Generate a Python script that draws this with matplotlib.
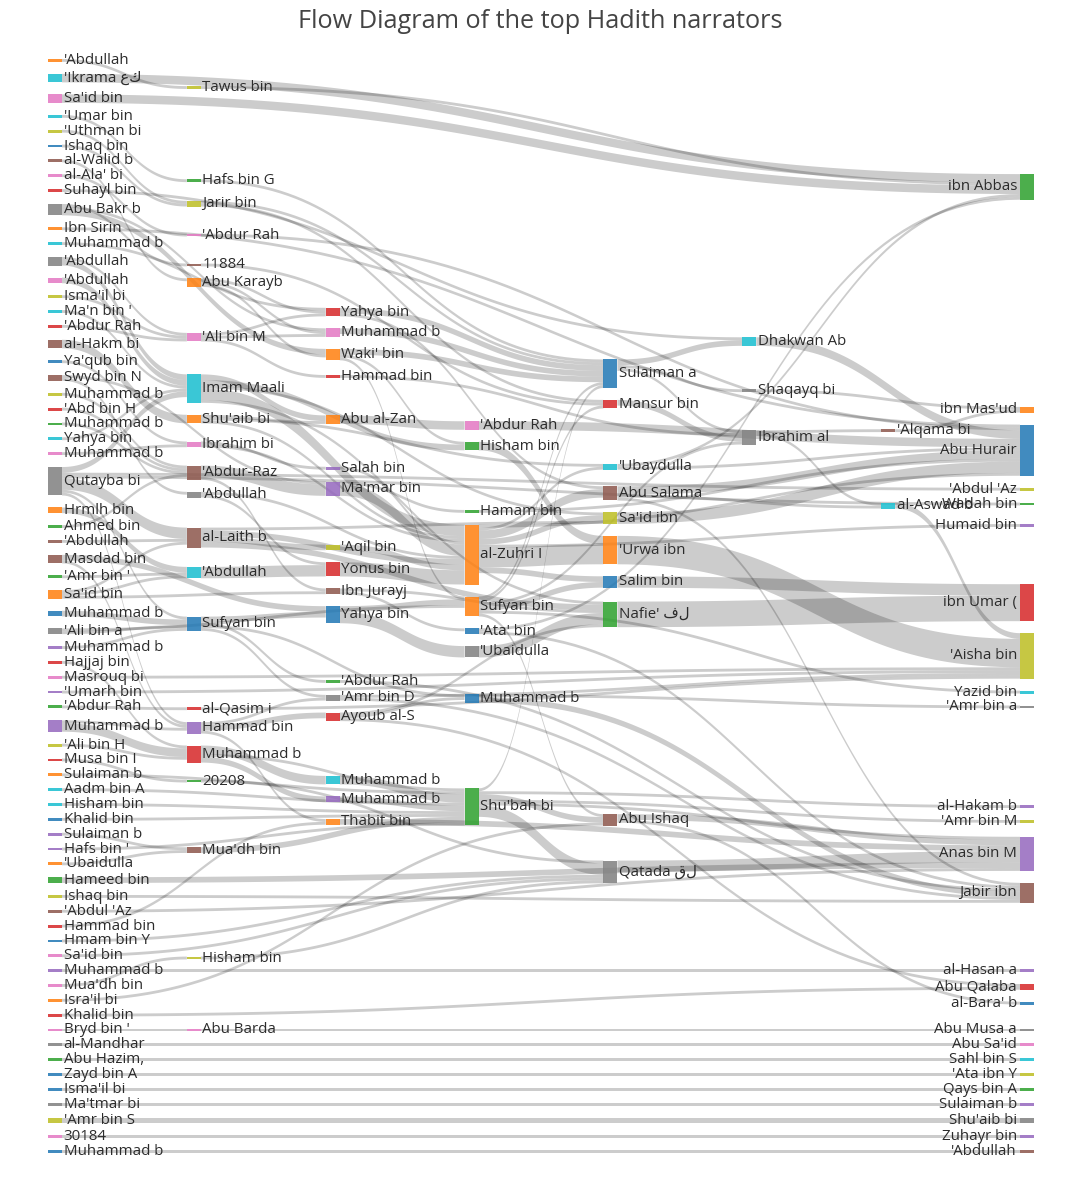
import matplotlib
matplotlib.use("Agg")
import matplotlib.pyplot as plt
import numpy as np
from matplotlib.patches import Rectangle, Polygon

TITLE = "Flow Diagram of the top Hadith narrators"

# ---------------- node labels (grouped by column, top to bottom) ----------------
col0_labels = ["'Abdullah", "'Ikrama عك", "Sa'id bin", "'Umar bin", "'Uthman bi", "Ishaq bin",
               "al-Walid b", "al-Ala' bi", "Suhayl bin", "Abu Bakr b", "Ibn Sirin", "Muhammad b",
               "'Abdullah", "'Abdullah", "Isma'il bi", "Ma'n bin '", "'Abdur Rah", "al-Hakm bi",
               "Ya'qub bin", "Swyd bin N", "Muhammad b", "'Abd bin H", "Muhammad b", "Yahya bin",
               "Muhammad b", "Qutayba bi", "Hrmlh bin", "Ahmed bin", "'Abdullah", "Masdad bin",
               "'Amr bin '", "Sa'id bin", "Muhammad b", "'Ali bin a", "Muhammad b", "Hajjaj bin",
               "Masrouq bi", "'Umarh bin", "'Abdur Rah", "Muhammad b", "'Ali bin H", "Musa bin I",
               "Sulaiman b", "Aadm bin A", "Hisham bin", "Khalid bin", "Sulaiman b", "Hafs bin '",
               "'Ubaidulla", "Hameed bin", "Ishaq bin", "'Abdul 'Az", "Hammad bin", "Hmam bin Y",
               "Sa'id bin", "Muhammad b", "Mua'dh bin", "Isra'il bi", "Khalid bin", "Bryd bin '",
               "al-Mandhar", "Abu Hazim,", "Zayd bin A", "Isma'il bi", "Ma'tmar bi", "'Amr bin S",
               "30184", "Muhammad b"]
col1_labels = ["Tawus bin", "Hafs bin G", "Jarir bin", "'Abdur Rah", "11884", "Abu Karayb",
               "'Ali bin M", "Imam Maali", "Shu'aib bi", "Ibrahim bi", "'Abdur-Raz", "'Abdullah",
               "al-Laith b", "'Abdullah", "Sufyan bin", "al-Qasim i", "Hammad bin", "Muhammad b",
               "20208", "Mua'dh bin", "Hisham bin", "Abu Barda"]
col2_labels = ["Yahya bin", "Muhammad b", "Waki' bin", "Hammad bin", "Abu al-Zan", "Salah bin",
               "Ma'mar bin", "'Aqil bin", "Yonus bin", "Ibn Jurayj", "Yahya bin", "'Abdur Rah",
               "'Amr bin D", "Ayoub al-S", "Muhammad b", "Muhammad b", "Thabit bin"]
col3_labels = ["'Abdur Rah", "Hisham bin", "Hamam bin", "al-Zuhri I", "Sufyan bin", "'Ata' bin",
               "'Ubaidulla", "Muhammad b", "Shu'bah bi"]
col4_labels = ["Sulaiman a", "Mansur bin", "'Ubaydulla", "Abu Salama", "Sa'id ibn", "'Urwa ibn",
               "Salim bin", "Nafie' فل", "Abu Ishaq", "Qatada قل"]
col5_labels = ["Dhakwan Ab", "Shaqayq bi", "Ibrahim al"]
col6_labels = ["'Alqama bi", "al-Aswad b"]
col7_labels = ["ibn Abbas", "ibn Mas'ud", "Abu Hurair", "'Abdul 'Az", "Wadah bin", "Humaid bin",
               "ibn Umar (", "'Aisha bin", "Yazid bin", "'Amr bin a", "al-Hakam b", "'Amr bin M",
               "Anas bin M", "Jabir ibn", "al-Hasan a", "Abu Qalaba", "al-Bara' b", "Abu Musa a",
               "Abu Sa'id", "Sahl bin S", "'Ata ibn Y", "Qays bin A", "Sulaiman b", "Shu'aib bi",
               "Zuhayr bin", "'Abdullah"]

# node colour codes (one letter per node, same order as the labels)
col0_colors = "ocpcybnprk" "ockpycrnbn" "yrgcpkognn" "gobkvrpvgv" "yroccbvvog" "ynrbpvporp" "kgbbkypb"
col1_colors = "ygypnopcopnkncbrvrgnyp"
col2_colors = "rporovvyrnbgkrcvo"
col3_colors = "pggoobkbg"
col4_colors = "brcnyobgnk"
col5_colors = "ckk"
col6_colors = "nc"
col7_colors = "gobygvryckvyvnvrbkpcygvkvn"

# ---------------- links (source key, target key, value) ----------------
links_from_col0 = [
    ("A0", "B0", 1), ("A1", "H0", 3), ("A2", "H0", 3), ("A3", "B1", 1), ("A4", "B2", 1), ("A5", "B2", 1),
    ("A6", "B5", 1), ("A7", "B3", 1), ("A8", "F0", 1), ("A9", "C2", 2), ("A9", "B4", 1), ("A9", "C1", 1),
    ("A10", "H2", 1), ("A11", "C0", 1), ("A12", "B7", 2), ("A12", "B6", 1), ("A13", "B7", 2), ("A14", "B6", 1),
    ("A15", "B7", 1), ("A16", "B6", 1), ("A17", "B8", 3), ("A18", "B9", 1), ("A19", "B11", 1), ("A19", "C6", 1),
    ("A20", "B10", 1), ("A21", "B10", 1), ("A22", "B10", 1), ("A23", "B7", 1), ("A24", "B9", 1),
    ("A25", "B12", 4), ("A25", "B7", 2), ("A25", "H3", 1), ("A25", "H4", 1), ("A25", "B14", 1), ("A25", "B16", 1),
    ("A26", "B13", 2), ("A27", "B10", 1), ("A28", "B12", 1), ("A29", "C10", 2), ("A29", "B16", 1),
    ("A30", "B13", 1), ("A31", "B13", 1), ("A31", "C9", 1), ("A31", "B12", 1), ("A32", "B14", 2),
    ("A33", "D4", 1), ("A33", "B14", 1), ("A34", "B14", 1), ("A35", "B17", 1), ("A36", "H7", 1), ("A37", "H7", 1),
    ("A38", "B15", 1), ("A39", "B17", 3), ("A39", "B16", 1), ("A40", "B17", 1), ("A41", "B18", 1),
    ("A42", "D8", 1), ("A43", "D8", 1), ("A44", "D8", 1), ("A45", "D8", 1), ("A46", "B19", 1), ("A47", "D8", 1),
    ("A48", "B19", 1), ("A49", "H12", 2), ("A50", "H13", 1), ("A51", "H12", 1), ("A52", "C16", 1),
    ("A53", "E9", 1), ("A54", "E9", 1), ("A55", "H14", 1), ("A56", "B20", 1), ("A57", "E8", 1), ("A58", "H15", 1),
    ("A59", "B21", 1), ("A60", "H18", 1), ("A61", "H19", 1), ("A62", "H20", 1), ("A63", "H21", 1),
    ("A64", "H22", 1), ("A65", "H23", 2), ("A66", "H24", 1), ("A67", "H25", 1)]
links_from_col1 = [
    ("B0", "H0", 1), ("B1", "E0", 1), ("B2", "E1", 1), ("B2", "E0", 1), ("B3", "H2", 1),
    ("B4", "E1", 1), ("B5", "C0", 1), ("B5", "C1", 1), ("B5", "C2", 1), ("B6", "C0", 1), ("B6", "C1", 1),
    ("B6", "C3", 1), ("B7", "E7", 1), ("B7", "C4", 2), ("B7", "D3", 4), ("B7", "D1", 2), ("B7", "E4", 1),
    ("B8", "D3", 1), ("B8", "C4", 1), ("B8", "E2", 1), ("B9", "D3", 1), ("B9", "C5", 1),
    ("B10", "C6", 4), ("B10", "C9", 1), ("B11", "C8", 1), ("B11", "D3", 1),
    ("B12", "C7", 2), ("B12", "E7", 2), ("B12", "E4", 1), ("B12", "D3", 2), ("B13", "C8", 4),
    ("B14", "C10", 2), ("B14", "C12", 1), ("B14", "D7", 1), ("B14", "C11", 1), ("B15", "H7", 1),
    ("B16", "C13", 2), ("B16", "C16", 1), ("B16", "C12", 1), ("B17", "C14", 3), ("B17", "C15", 2),
    ("B17", "D8", 1), ("B18", "E9", 1), ("B19", "D8", 2), ("B20", "E9", 1), ("B21", "H17", 1)]
links_from_col2 = [
    ("C0", "E0", 2), ("C0", "E3", 1), ("C1", "E0", 2), ("C2", "E0", 2), ("C2", "D4", 1),
    ("C2", "D1", 1), ("C3", "F2", 1), ("C4", "D0", 3), ("C5", "D3", 1), ("C6", "D3", 4), ("C6", "D2", 1),
    ("C7", "D3", 2), ("C8", "D3", 5), ("C9", "D5", 1), ("C9", "E7", 1), ("C10", "D6", 4), ("C10", "D4", 2),
    ("C11", "H13", 1), ("C12", "H13", 1), ("C12", "H7", 1), ("C13", "E7", 1), ("C13", "H15", 1), ("C13", "D7", 1),
    ("C14", "D8", 3), ("C15", "D8", 2), ("C16", "H12", 2)]
links_from_col3 = [
    ("D0", "H2", 3), ("D1", "E5", 3), ("D2", "H2", 1), ("D3", "E5", 7), ("D3", "E3", 3), ("D3", "E4", 2),
    ("D3", "E6", 2), ("D3", "E2", 1), ("D3", "H5", 1), ("D3", "H2", 1),
    ("D4", "E0", 1), ("D4", "E1", 1), ("D4", "F2", 1), ("D4", "E8", 1), ("D4", "E6", 2), ("D4", "H8", 1),
    ("D5", "H0", 1), ("D5", "H13", 1), ("D6", "E7", 4), ("D7", "H13", 2), ("D7", "H9", 1),
    ("D8", "E9", 4), ("D8", "E8", 2), ("D8", "H10", 1), ("D8", "H11", 1), ("D8", "H12", 1), ("D8", "E0", 1)]
links_from_col4 = [
    ("E0", "F0", 2), ("E0", "F1", 1), ("E0", "F2", 1), ("E1", "F2", 2), ("E2", "H0", 1), ("E2", "H2", 1),
    ("E3", "H2", 3), ("E3", "H13", 1), ("E3", "G1", 1), ("E4", "H2", 4), ("E5", "H7", 10), ("E6", "H6", 4),
    ("E7", "H6", 9), ("E8", "H12", 2), ("E8", "H16", 1), ("E9", "H12", 4)]
links_from_col5 = [("F0", "H2", 3), ("F1", "H1", 1), ("F2", "G0", 1), ("F2", "G1", 1)]
links_from_col6 = [("G0", "H1", 1), ("G1", "H7", 2)]

# ---------------- assemble ----------------
PALETTE = {'b': '#1f77b4', 'o': '#ff7f0e', 'g': '#2ca02c', 'r': '#d62728', 'v': '#9467bd',
           'n': '#8c564b', 'p': '#e377c2', 'k': '#7f7f7f', 'y': '#bcbd22', 'c': '#17becf'}
groups = [("A", col0_labels, col0_colors), ("B", col1_labels, col1_colors), ("C", col2_labels, col2_colors),
          ("D", col3_labels, col3_colors), ("E", col4_labels, col4_colors), ("F", col5_labels, col5_colors),
          ("G", col6_labels, col6_colors), ("H", col7_labels, col7_colors)]
keys, labels, colors = [], [], []
for letter, labs, cols in groups:
    assert len(labs) == len(cols), (letter, len(labs), len(cols))
    for i, (lab, c) in enumerate(zip(labs, cols)):
        keys.append(f"{letter}{i}")
        labels.append(lab)
        colors.append(PALETTE[c])
idx = {k: i for i, k in enumerate(keys)}
N = len(keys)
all_links = (links_from_col0 + links_from_col1 + links_from_col2 + links_from_col3 +
             links_from_col4 + links_from_col5 + links_from_col6)
src = np.array([idx[s] for s, t, v in all_links])
tgt = np.array([idx[t] for s, t, v in all_links])
val = np.array([v for s, t, v in all_links], dtype=float)
L = len(val)

# ---------------- sankey layout (d3-sankey style) ----------------
depth = np.zeros(N, int)
changed = True
while changed:
    changed = False
    for s, t in zip(src, tgt):
        if depth[t] < depth[s] + 1:
            depth[t] = depth[s] + 1
            changed = True
has_out = np.zeros(N, bool); has_out[src] = True
maxd = depth.max()
depth[~has_out] = maxd
vin = np.bincount(tgt, weights=val, minlength=N)
vout = np.bincount(src, weights=val, minlength=N)
nval = np.maximum(vin, vout)
columns = [[i for i in range(N) if depth[i] == d] for d in range(maxd + 1)]

FIG_W, FIG_H = 1080, 1200
TOP, HEIGHT = 59.0, 1094.0
PAD = 12.0
NW = 14.0
X_LEFT, X_RIGHT = 48.0, 1034.0
ky = min((HEIGHT - (len(c) - 1) * PAD) / nval[c].sum() for c in columns)
dy = nval * ky
y = np.zeros(N)
for col in columns:
    for j, i in enumerate(col):
        y[i] = j

in_links = [[] for _ in range(N)]
out_links = [[] for _ in range(N)]
for l in range(L):
    out_links[src[l]].append(l)
    in_links[tgt[l]].append(l)


def resolve():
    for col in columns:
        y0 = 0.0
        for i in col:
            d = y0 - y[i]
            if d > 0:
                y[i] += d
            y0 = y[i] + dy[i] + PAD
        d = y0 - PAD - HEIGHT
        if d > 0:
            last = col[-1]
            y[last] -= d
            y0 = y[last]
            for i in reversed(col[:-1]):
                d = y[i] + dy[i] + PAD - y0
                if d > 0:
                    y[i] -= d
                y0 = y[i]


def center(i):
    return y[i] + dy[i] / 2


def relax_lr(alpha):
    for col in columns:
        for i in col:
            if in_links[i]:
                w = sum(val[l] for l in in_links[i])
                c = sum(center(src[l]) * val[l] for l in in_links[i]) / w
                y[i] += (c - center(i)) * alpha


def relax_rl(alpha):
    for col in reversed(columns):
        for i in col:
            if out_links[i]:
                w = sum(val[l] for l in out_links[i])
                c = sum(center(tgt[l]) * val[l] for l in out_links[i]) / w
                y[i] += (c - center(i)) * alpha


resolve()
alpha = 1.0
for _ in range(32):
    alpha *= 0.99
    relax_rl(alpha)
    resolve()
    relax_lr(alpha)
    resolve()

# link slots
sy = np.zeros(L)
ty = np.zeros(L)
for i in range(N):
    acc = 0.0
    for l in sorted(out_links[i], key=lambda l: y[tgt[l]]):
        sy[l] = acc
        acc += val[l] * ky
    acc = 0.0
    for l in sorted(in_links[i], key=lambda l: y[src[l]]):
        ty[l] = acc
        acc += val[l] * ky

step = (X_RIGHT - NW - X_LEFT) / maxd
nx = X_LEFT + depth * step
ny = TOP + y

# ---------------- drawing ----------------
plt.rcParams['font.family'] = ['Open Sans', 'DejaVu Sans']
fig = plt.figure(figsize=(FIG_W / 100, FIG_H / 100), dpi=100)
ax = fig.add_axes([0, 0, 1, 1])
ax.set_xlim(0, FIG_W)
ax.set_ylim(FIG_H, 0)
ax.axis('off')

t = np.linspace(0, 1, 60)
for l in range(L):
    s, g = src[l], tgt[l]
    x0 = nx[s] + NW
    x1 = nx[g]
    xa = x0 + (x1 - x0) * 0.5
    xb = x0 + (x1 - x0) * 0.5
    w = val[l] * ky
    ya = ny[s] + sy[l]
    yb = ny[g] + ty[l]
    bx = (1 - t) ** 3 * x0 + 3 * (1 - t) ** 2 * t * xa + 3 * (1 - t) * t ** 2 * xb + t ** 3 * x1
    by = (1 - t) ** 3 * ya + 3 * (1 - t) ** 2 * t * ya + 3 * (1 - t) * t ** 2 * yb + t ** 3 * yb
    pts = np.concatenate([np.column_stack([bx, by]), np.column_stack([bx[::-1], by[::-1] + w])])
    ax.add_patch(Polygon(pts, closed=True, facecolor=(0, 0, 0, 0.2), edgecolor='none', zorder=1))

FS = 10.8
for i in range(N):
    ax.add_patch(Rectangle((nx[i], ny[i]), NW, dy[i], facecolor=colors[i], alpha=0.85,
                           edgecolor='none', zorder=2))
    cy = ny[i] + dy[i] / 2
    if depth[i] == maxd:
        ax.text(nx[i] - 3, cy, labels[i], ha='right', va='center', fontsize=FS, color='#2b2b2b', zorder=3)
    else:
        ax.text(nx[i] + NW + 1.5, cy, labels[i], ha='left', va='center', fontsize=FS, color='#2b2b2b', zorder=3)

fig.text(0.5, 1 - 21 / FIG_H, TITLE, ha='center', va='center', fontsize=18.2, color='#444')
fig.savefig("out.png", dpi=100, facecolor='white')
